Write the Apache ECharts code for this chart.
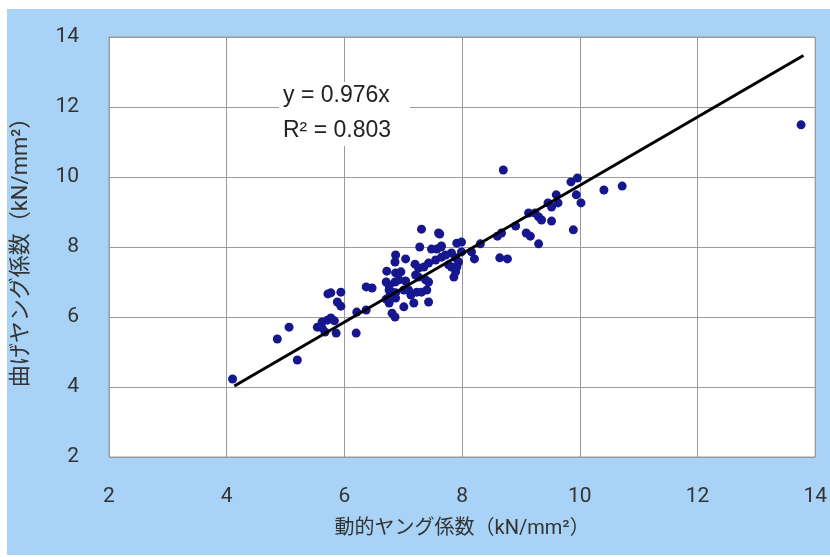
<!DOCTYPE html>
<html>
<head>
<meta charset="utf-8">
<script src="https://cdn.jsdelivr.net/npm/echarts@6/dist/echarts.min.js"></script>
<style>
html, body { margin: 0; padding: 0; background: #fff; }
#chart { width: 830px; height: 557px; }
</style>
</head>
<body>
<div id="chart"></div>
<script>
// 動的ヤング係数 (x) と 曲げヤング係数 (y)
var dynE = [4.10, 4.86, 5.06, 5.20, 5.54, 5.62, 5.71, 5.67, 5.72, 5.77, 5.83, 5.62, 5.86, 6.20, 5.77, 5.94, 5.88, 5.94, 6.21, 6.37,
    6.37, 6.47, 6.71, 6.76, 6.86, 6.93, 7.04, 7.21, 7.26, 7.38, 7.43, 6.76, 6.81, 6.87, 7.01, 7.09, 7.23, 7.31, 7.40, 6.76,
    6.71, 6.87, 7.13, 7.18, 7.01, 6.76, 7.43, 6.81, 6.86, 6.72, 6.87, 6.96, 6.87, 6.86, 7.04, 7.20, 7.31, 7.62, 7.28, 7.48,
    7.57, 7.65, 7.91, 7.99, 7.26, 7.35, 7.43, 7.55, 7.65, 7.72, 7.82, 7.89, 7.94, 7.99, 7.82, 7.89, 7.86, 7.60, 7.64, 7.77,
    7.91, 8.16, 8.21, 8.31, 8.60, 8.67, 8.64, 8.77, 8.91, 9.09, 9.16, 9.30, 9.13, 9.24, 9.30, 9.35, 9.52, 9.46, 9.52, 9.63,
    9.60, 9.89, 9.94, 10.02, 9.85, 9.96, 8.70, 10.41, 10.72, 13.76];
var bendE = [4.23, 5.37, 5.71, 4.77, 5.71, 5.86, 5.91, 5.57, 6.66, 5.97, 5.89, 5.69, 5.54, 5.54, 6.69, 6.71, 6.43, 6.31, 6.14, 6.20,
    6.86, 6.83, 7.00, 6.89, 7.00, 7.06, 7.03, 7.20, 7.14, 7.06, 7.00, 6.77, 6.71, 6.69, 6.77, 6.77, 6.71, 6.71, 6.77, 6.57,
    6.51, 6.54, 6.63, 6.40, 6.29, 6.40, 6.43, 6.11, 6.00, 7.31, 7.26, 7.29, 7.77, 7.57, 7.66, 7.51, 8.51, 8.37, 8.00, 7.94,
    7.94, 8.03, 8.11, 8.14, 7.40, 7.43, 7.54, 7.63, 7.71, 7.77, 7.83, 7.69, 7.57, 7.86, 7.43, 7.29, 7.14, 8.40, 8.00, 7.49,
    7.43, 7.86, 7.66, 8.09, 8.31, 8.40, 7.69, 7.66, 8.60, 8.40, 8.31, 8.09, 8.97, 8.97, 8.86, 8.77, 8.74, 9.26, 9.14, 9.26,
    9.49, 8.49, 9.49, 9.26, 9.86, 9.97, 10.20, 9.63, 9.74, 11.49];
// 近似直線 y = 0.976x の両端
var trendX = [4.13, 13.8];
var trendY = [4.03, 13.47];
var axisTicks = [2, 4, 6, 8, 10, 12, 14];
var eqText = ['y = 0.976x', 'R² = 0.803'];

var points = [];
for (var i = 0; i < dynE.length; i++) {
    points.push([dynE[i], bendE[i]]);
}
var trend = [];
for (var i = 0; i < trendX.length; i++) {
    trend.push([trendX[i], trendY[i]]);
}

var labelFont = 'Roboto, "Noto Sans CJK JP", sans-serif';
var eqFont = '"Liberation Sans", Arial, sans-serif';
var chart = echarts.init(document.getElementById('chart'));
chart.setOption({
    backgroundColor: '#fff',
    animation: false,
    graphic: [
        { type: 'rect', left: 7, top: 9, z: -10, shape: { width: 823, height: 546 }, style: { fill: '#a8d3f6' } },
        //数式ラベルの白い枠
        { type: 'rect', left: 279, top: 82, z: 9, shape: { width: 131, height: 64 }, style: { fill: '#fff' } },
        { type: 'text', left: 283, top: 84, z: 10, style: { text: eqText[0], fontSize: 23, fill: '#222', fontFamily: eqFont } },
        { type: 'text', left: 283, top: 119, z: 10, style: { text: eqText[1], fontSize: 23, fill: '#222', fontFamily: eqFont } }
    ],
    grid: {
        left: 109, right: 12, top: 37, bottom: 100,
        show: true, backgroundColor: '#fff', borderColor: '#9a9a9a', borderWidth: 1
    },
    xAxis: {
        type: 'value', min: axisTicks[0], max: axisTicks[axisTicks.length - 1], interval: 2,
        name: '動的ヤング係数（kN/mm²）', nameLocation: 'middle', nameGap: 62,
        nameTextStyle: { fontSize: 20, color: '#333', fontFamily: labelFont },
        axisLine: { show: false }, axisTick: { show: false },
        axisLabel: { fontSize: 21, color: '#333', margin: 29, fontFamily: labelFont },
        splitLine: { lineStyle: { color: '#9a9a9a', width: 1 } }
    },
    yAxis: {
        type: 'value', min: axisTicks[0], max: axisTicks[axisTicks.length - 1], interval: 2,
        name: '曲げヤング係数（kN/mm²）', nameLocation: 'middle', nameGap: 76,
        nameTextStyle: { fontSize: 22, color: '#333', fontFamily: labelFont },
        axisLine: { show: false }, axisTick: { show: false },
        axisLabel: { fontSize: 21, color: '#333', margin: 30, fontFamily: labelFont },
        splitLine: { lineStyle: { color: '#9a9a9a', width: 1 } }
    },
    series: [
        {
            type: 'scatter', data: points, symbolSize: 9,
            itemStyle: { color: '#16168e', opacity: 1 }, z: 3
        },
        {
            type: 'line', data: trend, symbol: 'none',
            lineStyle: { color: '#000', width: 3 }, z: 4
        }
    ]
});
</script>
</body>
</html>
